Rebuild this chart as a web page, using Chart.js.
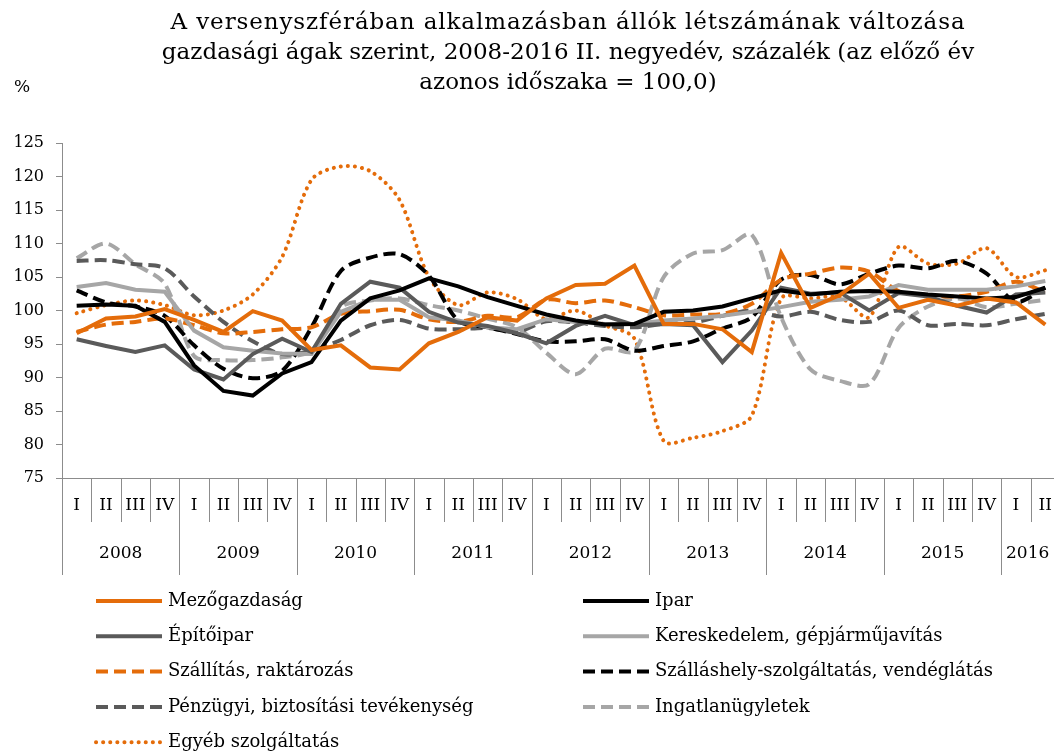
<!DOCTYPE html>
<html>
<head>
<meta charset="utf-8">
<script src="https://cdn.jsdelivr.net/npm/chart.js@4"></script>
<style>
  html, body { margin: 0; padding: 0; background: #fff; overflow: hidden; }
  #wrap { width: 1060px; height: 756px; }
</style>
</head>
<body>
<div id="wrap"><canvas id="chart" width="1060" height="756"></canvas></div>
<script>
const titleLines = [
  'A versenyszférában alkalmazásban állók létszámának változása',
  'gazdasági ágak szerint, 2008-2016 II. negyedév, százalék (az előző év',
  'azonos időszaka = 100,0)'
];
const quarterLabels = [
  'I', 'II', 'III', 'IV', 'I', 'II', 'III', 'IV', 'I', 'II', 'III', 'IV',
  'I', 'II', 'III', 'IV', 'I', 'II', 'III', 'IV', 'I', 'II', 'III', 'IV',
  'I', 'II', 'III', 'IV', 'I', 'II', 'III', 'IV', 'I', 'II'
];
const yearLabels = ['2008', '2009', '2010', '2011', '2012', '2013', '2014', '2015', '2016'];

const mezogazdasag = [96.6, 98.8, 99.1, 100.2, 98.6, 96.8, 99.9, 98.5, 94.1, 94.8, 91.5, 91.2,
  95.1, 96.8, 99.0, 98.5, 101.8, 103.8, 104.0, 106.7, 98.0, 98.0, 97.2, 93.8,
  108.6, 100.4, 102.3, 105.5, 100.4, 101.6, 100.7, 101.8, 101.2, 97.9];
const ipar = [100.7, 100.9, 100.7, 98.3, 91.8, 88.0, 87.3, 90.6, 92.3, 98.5, 101.8, 103.0,
  104.8, 103.6, 102.0, 100.7, 99.4, 98.5, 97.9, 98.0, 99.8, 100.0, 100.6, 101.8,
  103.0, 102.4, 102.8, 102.9, 102.8, 102.4, 102.1, 101.8, 102.0, 103.4];
const epitoipar = [95.7, 94.7, 93.8, 94.8, 91.2, 89.7, 93.5, 95.8, 93.8, 101.0, 104.3, 103.4,
  99.8, 98.2, 97.7, 96.6, 95.1, 97.7, 99.2, 97.8, 98.0, 97.8, 92.3, 97.0,
  103.4, 102.5, 102.7, 100.0, 102.6, 102.1, 100.7, 99.7, 102.4, 102.7];
const kereskedelem = [103.5, 104.1, 103.1, 102.8, 97.0, 94.5, 94.0, 93.6, 93.5, 99.8, 101.6, 101.6,
  99.0, 98.5, 97.5, 97.2, 98.7, 98.3, 98.0, 98.0, 98.5, 98.8, 99.2, 99.8,
  100.5, 101.3, 101.6, 102.1, 103.8, 103.1, 103.1, 103.1, 103.6, 104.4];
const szallitas = [96.8, 97.9, 98.3, 98.8, 97.8, 96.6, 96.8, 97.2, 97.5, 99.5, 99.9, 100.1,
  98.7, 98.3, 99.2, 99.0, 101.6, 101.1, 101.5, 100.5, 99.3, 99.4, 99.5, 101.0,
  104.6, 105.5, 106.4, 105.8, 102.9, 102.3, 102.1, 102.8, 104.3, 102.7];
const szallashely = [103.0, 101.2, 100.6, 99.2, 94.8, 91.3, 89.9, 91.0, 97.5, 105.9, 107.9, 108.4,
  105.2, 98.5, 97.5, 96.5, 95.4, 95.4, 95.7, 94.0, 94.7, 95.4, 97.3, 99.0,
  104.6, 105.3, 103.9, 105.5, 106.7, 106.3, 107.4, 105.5, 101.3, 103.4];
const penzugyi = [107.4, 107.5, 106.9, 106.3, 102.1, 98.3, 95.4, 93.5, 94.0, 95.6, 97.8, 98.6,
  97.3, 97.2, 97.4, 96.8, 98.4, 98.2, 97.7, 97.5, 98.0, 98.2, 99.2, 100.0,
  99.1, 99.8, 98.6, 98.3, 100.0, 97.8, 98.0, 97.8, 98.7, 99.5];
const ingatlan = [107.8, 110.0, 106.9, 104.0, 93.2, 92.6, 92.6, 93.0, 94.0, 100.5, 101.5, 101.8,
  100.8, 100.0, 98.8, 97.5, 93.7, 90.5, 94.3, 94.0, 105.0, 108.5, 109.0, 111.3,
  99.0, 91.2, 89.5, 89.0, 97.4, 100.6, 101.8, 100.5, 101.0, 101.6];
const egyeb = [99.6, 100.8, 101.5, 100.8, 99.3, 100.0, 102.4, 108.0, 119.5, 121.5, 120.8, 116.5,
  105.0, 100.8, 102.7, 101.7, 98.7, 100.0, 97.8, 95.8, 80.5, 81.0, 82.0, 84.3,
  101.8, 101.8, 102.0, 99.0, 109.5, 107.0, 107.0, 109.3, 105.0, 106.0];

const orange = '#e46c0a';
const black = '#000000';
const darkGray = '#5a5a5a';
const lightGray = '#a6a6a6';
const serif = "'DejaVu Serif', 'Liberation Serif', serif";

const solid = [];
const dashed = [12, 6];
const dotted = [0.1, 7];

const series = [
  { label: 'Mezőgazdaság', data: mezogazdasag, color: orange, dash: solid },
  { label: 'Ipar', data: ipar, color: black, dash: solid },
  { label: 'Építőipar', data: epitoipar, color: darkGray, dash: solid },
  { label: 'Kereskedelem, gépjárműjavítás', data: kereskedelem, color: lightGray, dash: solid },
  { label: 'Szállítás, raktározás', data: szallitas, color: orange, dash: dashed },
  { label: 'Szálláshely-szolgáltatás, vendéglátás', data: szallashely, color: black, dash: dashed },
  { label: 'Pénzügyi, biztosítási tevékenység', data: penzugyi, color: darkGray, dash: dashed },
  { label: 'Ingatlanügyletek', data: ingatlan, color: lightGray, dash: dashed },
  { label: 'Egyéb szolgáltatás', data: egyeb, color: orange, dash: dotted }
];

const datasets = series.map(s => ({
  label: s.label,
  data: s.data,
  borderColor: s.color,
  backgroundColor: s.color,
  borderWidth: 4,
  borderDash: s.dash,
  borderCapStyle: s.dash === dotted ? 'round' : 'butt',
  pointRadius: 0,
  pointHoverRadius: 0,
  fill: false,
  tension: s.dash === solid ? 0 : 0.3
}));

const axisColor = '#8c8c8c';

// title, % sign, two-level x axis and legend
const extras = {
  id: 'extras',
  afterDraw(chart) {
    const ctx = chart.ctx;
    const area = chart.chartArea;
    const x = chart.scales.x;
    const step = x.getPixelForValue(1) - x.getPixelForValue(0);
    ctx.save();

    ctx.fillStyle = '#000';
    ctx.textAlign = 'center';
    ctx.textBaseline = 'middle';
    ctx.font = '23px ' + serif;
    titleLines.forEach((t, i) => {
      ctx.letterSpacing = i === 0 ? '0.9px' : '0px';
      ctx.fillText(t, 568, 23 + i * 30);
    });
    ctx.letterSpacing = '0px';

    ctx.font = '17px ' + serif;
    ctx.fillText('%', 22, 88);

    // x axis
    ctx.strokeStyle = axisColor;
    ctx.lineWidth = 1;
    ctx.beginPath();
    ctx.moveTo(area.left, area.bottom + 0.5);
    ctx.lineTo(area.right, area.bottom + 0.5);
    ctx.stroke();

    ctx.font = '17px ' + serif;
    let yearIdx = 0;
    let yearStart = 0;
    quarterLabels.forEach((q, i) => {
      const cx = x.getPixelForValue(i);
      const left = Math.round(cx - step / 2) + 0.5;
      const isYear = q === 'I';
      ctx.beginPath();
      ctx.moveTo(left, area.bottom);
      ctx.lineTo(left, area.bottom + (isYear ? 97 : 44));
      ctx.stroke();
      ctx.fillText(q, cx, area.bottom + 28);
      const last = i === quarterLabels.length - 1 || quarterLabels[i + 1] === 'I';
      if (last) {
        const a = x.getPixelForValue(yearStart) - step / 2;
        const b = Math.min(cx + step / 2, 1054);
        ctx.fillText(yearLabels[yearIdx], (a + b) / 2, area.bottom + 76);
        yearIdx++;
        yearStart = i + 1;
      }
    });

    // legend
    ctx.textAlign = 'left';
    ctx.font = '18px ' + serif;
    series.forEach((s, i) => {
      const col = i % 2;
      const row = Math.floor(i / 2);
      const lx = col === 0 ? 96 : 583;
      const ly = 601 + row * 35.3;
      ctx.strokeStyle = s.color;
      ctx.lineWidth = 4;
      ctx.setLineDash(s.dash);
      ctx.lineCap = s.dash === dotted ? 'round' : 'butt';
      ctx.beginPath();
      ctx.moveTo(lx, ly);
      ctx.lineTo(lx + 66, ly);
      ctx.stroke();
      ctx.setLineDash([]);
      ctx.fillStyle = '#000';
      ctx.fillText(s.label, lx + 72, ly);
    });
    ctx.restore();
  }
};

new Chart(document.getElementById('chart'), {
  type: 'line',
  data: { labels: quarterLabels, datasets },
  plugins: [extras],
  options: {
    responsive: false,
    animation: false,
    devicePixelRatio: 1,
    layout: { padding: { top: 143, right: 0, left: 0, bottom: 0 } },
    plugins: {
      legend: { display: false },
      title: { display: false },
      tooltip: { enabled: false }
    },
    scales: {
      x: {
        type: 'category',
        offset: true,
        grid: { display: false, drawTicks: false },
        border: { display: false },
        ticks: { display: false },
        afterFit(scale) { scale.height = 756 - 478; }
      },
      y: {
        min: 75,
        max: 125,
        ticks: { stepSize: 5, color: '#000', padding: 12, font: { family: serif, size: 16 } },
        grid: { drawOnChartArea: false, drawTicks: true, tickLength: 6, color: axisColor },
        border: { color: axisColor },
        afterFit(scale) { scale.width = 62; }
      }
    }
  }
});
</script>
</body>
</html>
